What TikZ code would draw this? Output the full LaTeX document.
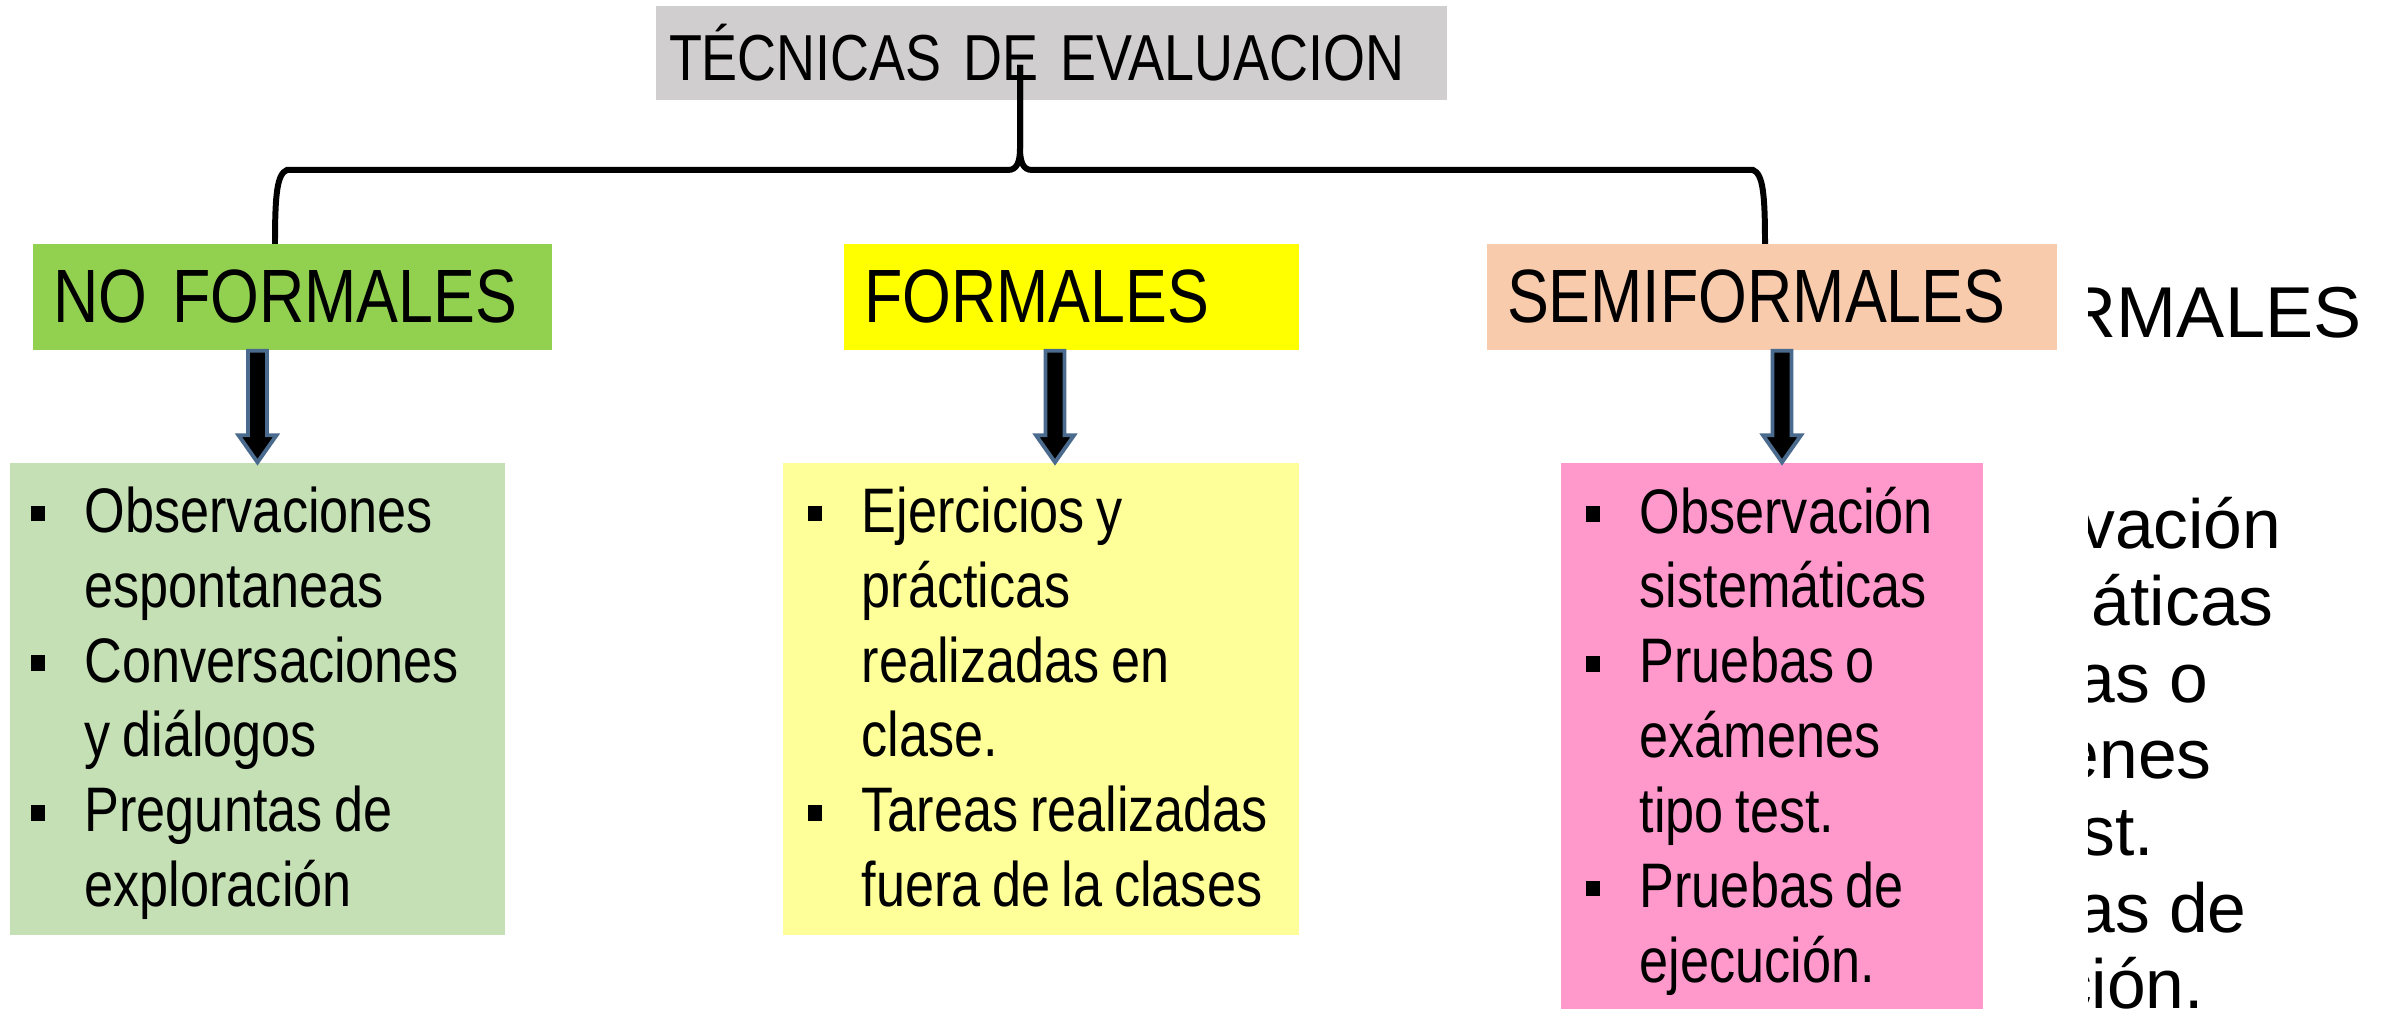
\documentclass[tikz,border=0pt]{standalone}
\usepackage{fontspec}
\setmainfont{Liberation Sans}
\newfontfamily\condfont[FakeStretch=0.83,WordSpace=0.8]{Liberation Sans}
\usetikzlibrary{calc}
\definecolor{titlegray}{HTML}{D0CECE}
\definecolor{nfgreen}{HTML}{92D050}
\definecolor{fyellow}{HTML}{FFFF00}
\definecolor{sfsalmon}{HTML}{F8CBAD}
\definecolor{nflgreen}{HTML}{C5E0B4}
\definecolor{flyellow}{HTML}{FFFF99}
\definecolor{sflpink}{HTML}{FF99CC}
\definecolor{arrowedge}{HTML}{4A6A8E}
\newcommand{\sqitem}{\llap{\rule[3.1pt]{4pt}{4.5pt}\hspace{11.4pt}}}

\begin{document}
\begin{tikzpicture}[
  headbox/.style={fill=#1, minimum height=1.06cm, inner xsep=0.2cm, inner ysep=0pt, align=left, font=\condfont\fontsize{21.5pt}{24pt}\selectfont},
  listbox/.style={fill=#1, inner sep=0pt},
  listtext/.style={anchor=north west, inner sep=0pt, align=left, font=\condfont\fontsize{17.9pt}{21.3pt}\selectfont},
  backtext/.style={inner sep=0pt, align=left, font=\fontsize{#1}{21.8pt}\selectfont},
  brace/.style={line width=1.7pt},
  blockarrow/.style={draw=arrowedge, fill=black, line width=1.1pt,
    to path={($(\tikztostart)+(-0.095,0)$) -- ($(\tikztotarget)+(-0.095,0.27)$) -- ($(\tikztotarget)+(-0.19,0.27)$) -- (\tikztotarget) -- ($(\tikztotarget)+(0.19,0.27)$) -- ($(\tikztotarget)+(0.095,0.27)$) -- ($(\tikztostart)+(0.095,0)$) -- cycle}}
]
\useasboundingbox (0,0) rectangle (23.9,10.14);

\node[fill=titlegray, minimum height=0.94cm, text width=7.65cm, inner xsep=0.13cm, inner ysep=0pt, align=left, font=\condfont\fontsize{18.5pt}{22pt}\selectfont] (T) at (10.515,9.61) {TÉCNICAS DE EVALUACION};
%============
\node[headbox=nfgreen, text width=4.79cm] (NF) at (2.925,7.17) {NO FORMALES};
\node[headbox=fyellow, text width=4.15cm] (F) at (10.715,7.17) {FORMALES};
\node[headbox=sfsalmon, text width=5.30cm] (SF) at (17.72,7.17) {SEMIFORMALES};
%============
\node[listbox=nflgreen, minimum width=4.95cm, minimum height=4.72cm] (LNF) at (2.575,3.15) {};
\node[listbox=flyellow, minimum width=5.16cm, minimum height=4.72cm] (LF) at (10.41,3.15) {};
\node[listbox=sflpink, minimum width=4.22cm, minimum height=5.46cm] (LSF) at (17.72,2.78) {};

\node[listtext] (TNF) at (0.84,5.28) {\sqitem Observaciones\\espontaneas\\\sqitem Conversaciones\\y diálogos\\\sqitem Preguntas de\\exploración};
\node[listtext] (TF) at (8.61,5.28) {\sqitem Ejercicios y\\prácticas\\realizadas en\\clase.\\\sqitem Tareas realizadas\\fuera de la clases};
\node[listtext] (TSF) at (16.39,5.28) {\sqitem Observación\\sistemáticas\\\sqitem Pruebas o\\exámenes\\tipo test.\\\sqitem Pruebas de\\ejecución.};
%==========

% text of the slide behind, cut at the right
\begin{scope}
  \clip (20.88,0) rectangle (23.9,10.14);
  \node[backtext=20.5pt, anchor=base west] (BSF) at (17.88,6.76) {SEMIFORMALES};
  \node[backtext=19.8pt, anchor=north west] (BLSF) at (18.90,5.17) {Observación\\sistemáticas\\Pruebas o\\exámenes\\tipo test.\\Pruebas de\\ejecución.};
\end{scope}

\coordinate (BL) at (2.75,7.70);
\coordinate (BR) at (17.65,7.70);
\coordinate (TIP) at (10.20,9.49);
\coordinate (AF) at ([xshift=0.14cm]LF.north);
\coordinate (ASF) at ([xshift=0.1cm]LSF.north);

            \draw[brace] (BL) .. controls (2.75,8.20) and (2.77,8.40) .. (2.87,8.44) -- (10.08,8.44) .. controls (10.17,8.44) and (10.20,8.52) .. (10.20,8.66) -- (TIP);
            \draw[brace] (BR) .. controls (17.65,8.20) and (17.63,8.40) .. (17.53,8.44) -- (10.32,8.44) .. controls (10.23,8.44) and (10.20,8.52) .. (10.20,8.66) -- (TIP);

            \draw[blockarrow] (NF.south -| LNF.north) to (LNF.north);
            \draw[blockarrow] (F.south -| AF) to (AF);
            \draw[blockarrow] (SF.south -| ASF) to (ASF);
\end{tikzpicture}
\end{document}
